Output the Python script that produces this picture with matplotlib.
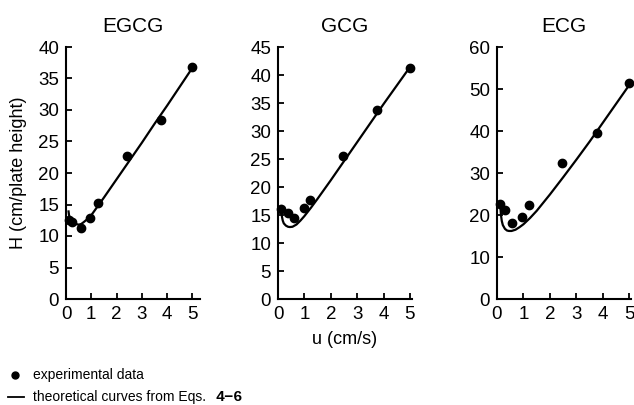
import matplotlib
matplotlib.use("Agg")
import matplotlib.pyplot as plt
from matplotlib.lines import Line2D

plt.rcParams['font.family'] = ['Liberation Sans', 'DejaVu Sans']

titles = ["EGCG", "GCG", "ECG"]
yMax = [40, 45, 60]
yStep = [5, 5, 10]
xMax = [5.3, 5.08, 5.06]

# experimental data (u in cm/s, H in cm/plate height)
egcgU = [0.1, 0.25, 0.6, 0.95, 1.25, 2.4, 3.75, 5.0]
egcgH = [12.6, 12.2, 11.3, 12.8, 15.3, 22.7, 28.4, 36.8]
gcgU = [0.12, 0.37, 0.6, 0.98, 1.23, 2.46, 3.74, 5.0]
gcgH = [16.0, 15.4, 14.4, 16.3, 17.7, 25.5, 33.8, 41.2]
ecgU = [0.12, 0.3, 0.55, 0.95, 1.2, 2.45, 3.77, 5.0]
ecgH = [22.7, 21.1, 18.2, 19.5, 22.4, 32.4, 39.6, 51.5]

# theoretical curves
egcgCurveU = [0.1, 0.12, 0.15, 0.2, 0.3, 0.4, 0.5, 0.6, 0.7, 0.85, 1.0, 1.25, 1.5, 2.0,
              2.5, 3.0, 3.5, 4.0, 4.5, 5.0]
egcgCurveH = [13.9, 13.3, 12.9, 12.5, 12.1, 11.9, 11.8, 11.9, 12.2, 12.7, 13.3, 14.7, 16.1, 19.0,
              21.9, 24.8, 27.8, 30.7, 33.7, 36.7]
gcgCurveU = [0.12, 0.13, 0.15, 0.18, 0.22, 0.3, 0.38, 0.45, 0.55, 0.7, 0.85, 1.0, 1.25, 1.5,
             2.0, 2.5, 3.0, 3.5, 4.0, 4.5, 5.0]
gcgCurveH = [16.6, 15.6, 14.7, 14.0, 13.5, 13.1, 12.9, 12.85, 12.9, 13.3, 14.0, 14.8, 16.3, 17.9,
             21.2, 24.6, 28.0, 31.4, 34.8, 38.1, 41.4]
ecgCurveU = [0.12, 0.13, 0.15, 0.18, 0.22, 0.3, 0.38, 0.45, 0.55, 0.7, 0.85, 1.0, 1.25, 1.5,
             2.0, 2.5, 3.0, 3.5, 4.0, 4.5, 5.0]
ecgCurveH = [23.2, 21.6, 20.0, 18.6, 17.6, 16.7, 16.3, 16.2, 16.2, 16.5, 17.1, 17.8, 19.3, 21.0,
             24.9, 29.0, 33.2, 37.5, 42.0, 46.5, 51.0]

dataU = [egcgU, gcgU, ecgU]
dataH = [egcgH, gcgH, ecgH]
curveU = [egcgCurveU, gcgCurveU, ecgCurveU]
curveH = [egcgCurveH, gcgCurveH, ecgCurveH]

W, H = 634, 405
fig = plt.figure(figsize=(W / 100, H / 100), dpi=100)

lefts = [66, 278, 497]
for i in range(3):
    ax = fig.add_axes([lefts[i] / W, 1 - 299 / H, 134 / W, 252 / H])
    ax.plot(curveU[i], curveH[i], color='black', lw=1.6, clip_on=False)
    ax.plot(dataU[i], dataH[i], 'o', color='black', ms=6, clip_on=False)
    ax.set_xlim(0, xMax[i])
    ax.set_ylim(0, yMax[i])
    ax.set_xticks(range(0, 6))
    ax.set_yticks(range(0, yMax[i] + 1, yStep[i]))
    for s in ['top', 'right']:
        ax.spines[s].set_visible(False)
    for s in ['left', 'bottom']:
        ax.spines[s].set_linewidth(1.5)
    ax.tick_params(direction='in', length=4.5, width=1.3, labelsize=13.5, pad=5)
    ax.set_title(titles[i], fontsize=15, pad=11)

fig.text(19 / W, 1 - 173 / H, "H (cm/plate height)", rotation=90, fontsize=13,
         ha='center', va='center')
fig.text(345 / W, 1 - 340 / H, "u (cm/s)", fontsize=13, ha='center', va='center')

# legend drawn by hand at the bottom left
fig.add_artist(Line2D([15 / W], [1 - 375 / H], marker='o', color='black', ms=5,
                      transform=fig.transFigure))
fig.text(33 / W, 1 - 375 / H, "experimental data", fontsize=10, va='center')
fig.add_artist(Line2D([8 / W, 24 / W], [1 - 397 / H, 1 - 397 / H], color='black', lw=1.3,
                      transform=fig.transFigure))
fig.text(33 / W, 1 - 397 / H, "theoretical curves from Eqs.", fontsize=10, va='center')
fig.text(215 / W, 1 - 397 / H, "4\u22126", fontsize=11, va='center', fontweight='bold',
         family=['Liberation Mono', 'DejaVu Sans Mono'])

fig.savefig("out.png", dpi=100)
